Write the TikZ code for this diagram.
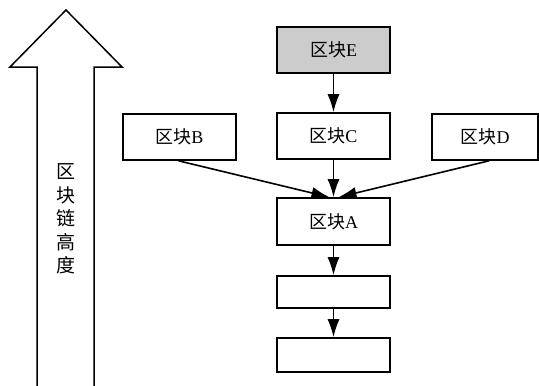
\documentclass[tikz,border=0pt]{standalone}
\usepackage{fontspec}
\setmainfont{Liberation Serif}
\newfontfamily\cjk{Noto Sans CJK SC}
\usetikzlibrary{arrows.meta}
\begin{document}
\begin{tikzpicture}[x=1pt,y=-1pt,
  blk/.style={draw,line width=1.6pt,minimum width=113pt,inner sep=0pt,font=\fontsize{18}{20}\selectfont},
  con/.style={line width=1.6pt,-{Latex[length=18pt,width=12pt]}}]
\useasboundingbox (0,0) rectangle (539,386);
% height arrow
\draw[line width=1.5pt,line join=miter] (37,386) -- (37,67) -- (10,67) -- (66,10) -- (122,67) -- (94,67) -- (94,386);
\node[font=\fontsize{19}{23.5}\selectfont\cjk,align=center] (h) at (66,219) {区\\块\\链\\高\\度};
% blocks
\node[blk,minimum height=46pt,fill=black!20] (E) at (333.5,50) {{\cjk 区块}E};
\node[blk,minimum height=46pt] (C) at (333.5,136) {{\cjk 区块}C};
\node[blk,minimum height=46pt] (B) at (179.5,137) {{\cjk 区块}B};
\node[blk,minimum height=46pt,minimum width=106pt] (D) at (485,137) {{\cjk 区块}D};
\node[blk,minimum height=47pt] (A) at (333.5,221.5) {{\cjk 区块}A};
\node[blk,minimum height=32pt] (F) at (333.5,292) {};
\node[blk,minimum height=34pt] (G) at (333.5,355) {};
% connectors
\draw[con] (E) -- (C);
\draw[con] (C) -- (A);
\draw[con] (B.south) ++(-1,0) -- ([xshift=-4pt]A.north);
\draw[con] ([xshift=4pt]D.south) -- ([xshift=5pt]A.north);
\draw[con] (A) -- (F);
\draw[con] (F) -- (G);
\end{tikzpicture}
\end{document}
